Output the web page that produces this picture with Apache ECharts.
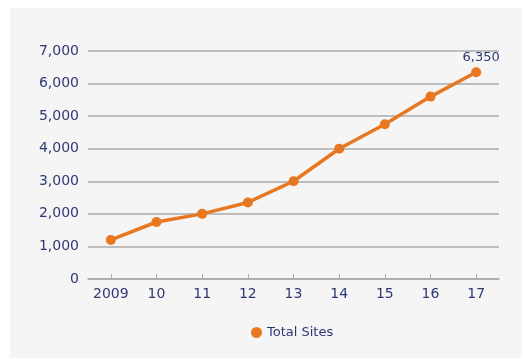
<!DOCTYPE html>
<html><head><meta charset="utf-8">
<script src="https://cdn.jsdelivr.net/npm/echarts@6/dist/echarts.min.js"></script>
<style>html,body{margin:0;padding:0;background:#fff}#c{width:524px;height:359px}</style>
</head><body><div id="c"></div>
<script>
const categories = ['2009','10','11','12','13','14','15','16','17'];
const totalSites = [1200,1750,2000,2350,3000,4000,4750,5600,6350];
const yTicks = [0,1000,2000,3000,4000,5000,6000,7000];

const navy = '#2f3875';
const orange = '#e87722';
const font = 'DejaVu Sans';
const chart = echarts.init(document.getElementById('c'), null, {renderer:'canvas'});
chart.setOption({
  animation:false,
  backgroundColor:'#fff',
  graphic:[{type:'rect', shape:{x:10,y:8,width:512,height:350}, style:{fill:'#f5f5f5'}, z:-10}],
  grid:{left:88, right:25, top:51, bottom:80, containLabel:false},
  xAxis:{type:'category', data:categories, boundaryGap:true,
    axisLine:{lineStyle:{color:'#aaaaaa', width:1.5}},
    axisTick:{show:true, inside:true, interval:0, alignWithLabel:true, length:5, lineStyle:{color:'#aaaaaa'}},
    axisLabel:{color:navy, fontFamily:font, fontSize:14, margin:8, interval:0}},
  yAxis:{type:'value', min:yTicks[0], max:yTicks[yTicks.length-1], interval:1000,
    axisLine:{show:false}, axisTick:{show:false},
    splitLine:{lineStyle:{color:'#aaaaaa', width:1.5}},
    axisLabel:{color:navy, fontFamily:font, fontSize:14, margin:9,
      formatter:v=>v.toLocaleString('en-US')}},
  legend:{bottom:15, left:246, icon:'circle', itemWidth:11, itemHeight:11, itemGap:8,
    textStyle:{color:navy, fontFamily:font, fontSize:13}},
  series:[{name:'Total Sites', type:'line', data:totalSites, color:orange,
    lineStyle:{width:3.5, color:orange}, symbol:'circle', symbolSize:10,
    itemStyle:{color:orange},
    label:{show:true, position:'top', distance:3, offset:[5,0], color:navy, fontFamily:font, fontSize:13,
      formatter:p=>p.dataIndex===totalSites.length-1?p.value.toLocaleString('en-US'):''}}]
});
</script></body></html>
